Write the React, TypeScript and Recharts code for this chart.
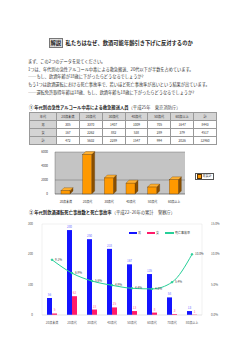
import React from 'react';
import {
  BarChart,
  Bar,
  ComposedChart,
  Line,
  XAxis,
  YAxis,
  CartesianGrid,
  LabelList,
} from 'recharts';

// ① 急性アルコール中毒（平成25年 東京消防庁）
const ageGroups1 = ['20歳未満', '20歳代', '30歳代', '40歳代', '50歳代', '60歳以上'];
const male1 = [305, 3370, 1407, 1009, 705, 1647];
const female1 = [167, 2262, 882, 538, 289, 379];
const total1 = [472, 5632, 2289, 1547, 994, 2026];
const ticks1 = [0, 1000, 2000, 3000, 4000, 5000, 6000];

// ② 飲酒運転死亡事故（平成22~26年 警察庁）
const ageGroups2 = ['20歳未満', '20歳代', '30歳代', '40歳代', '50歳代', '60歳代', '70歳代', '80歳以上'];
const male2 = [56, 280, 250, 218, 167, 135, 58, 13];
const female2 = [5, 62, 18, 25, 13, 8, 3, 1];
const rate2 = [9.1, 6.9, 5.6, 4.9, 4.4, 4.3, 5.4, 10.0];
const ticksLeft2 = [0, 100, 200, 300];
const ticksRight2 = [0, 5, 10, 15];

const font = '"Noto Sans CJK JP", "Noto Sans", sans-serif';

const sum = (a: number[]) => a.reduce((s, v) => s + v, 0);

const tableRows = [
  { label: '男', values: [...male1, sum(male1)] },
  { label: '女', values: [...female1, sum(female1)] },
  { label: '計', values: [...total1, sum(total1)] },
];

const chart1Data = ageGroups1.map((g, i) => ({ age: g, total: total1[i] }));
const chart2Data = ageGroups2.map((g, i) => ({
  age: g,
  male: male2[i],
  female: female2[i],
  rate: rate2[i],
}));

// excel-ish 3D column
const Bar3D = (props: any) => {
  const { x, y, width, height } = props;
  if (!height) return null;
  const d = 3;
  return (
    <g>
      <polygon
        points={`${x + width},${y} ${x + width + d},${y - d} ${x + width + d},${y + height - d} ${x + width},${y + height}`}
        fill="#8a4f00"
        stroke="#5a3300"
        strokeWidth={0.3}
      />
      <polygon
        points={`${x},${y} ${x + d},${y - d} ${x + width + d},${y - d} ${x + width},${y}`}
        fill="#ffb030"
        stroke="#5a3300"
        strokeWidth={0.3}
      />
      <rect x={x} y={y} width={width} height={height} fill="#ff9900" stroke="#5a3300" strokeWidth={0.3} />
    </g>
  );
};

const abs = (left: number, top: number, extra: React.CSSProperties = {}): React.CSSProperties => ({
  position: 'absolute',
  left,
  top,
  whiteSpace: 'nowrap',
  ...extra,
});

const bodyLines = [
  'まず、この2つのデータを見てください。',
  '1つは、年代別の急性アルコール中毒による救急搬送、20代以下が半数を占めています。',
  '――もし、飲酒年齢が18歳に下がったらどうなるでしょうか?',
  'もう1つは飲酒運転における死亡事故率で、若いほど死亡事故率が高いという結果が出ています。',
  '――運転免許取得年齢は18歳、もし、飲酒年齢も18歳に下がったらどうなるでしょうか?',
];

const App = () => {
  const cellStyle: React.CSSProperties = {
    border: '0.5px solid #999',
    height: 7,
    padding: 0,
    textAlign: 'center',
    lineHeight: '7px',
  };

  return (
    <div
      style={{
        position: 'absolute',
        left: 0,
        top: 0,
        width: 250,
        height: 353,
        background: '#fff',
        fontFamily: font,
        color: '#222',
        overflow: 'hidden',
      }}
    >
      {/* title */}
      <div style={abs(49, 40, { fontSize: 5.3, fontWeight: 700, lineHeight: '7px' })}>
        <span style={{ background: '#dcdcdc', border: '0.5px solid #777', padding: '0 0.5px' }}>解説</span>
        <span style={{ marginLeft: 3 }}>私たちはなぜ、飲酒可能年齢引き下げに反対するのか</span>
      </div>

      {bodyLines.map((t, i) => (
        <div key={i} style={abs(28, 59 + i * 7.7, { fontSize: 4.2, lineHeight: '5px', color: '#333' })}>
          {t}
        </div>
      ))}

      {/* section 1 */}
      <div style={abs(29, 104.5, { fontSize: 4.3, lineHeight: '5px' })}>
        <span style={{ fontWeight: 700 }}>① 年代別の急性アルコール中毒による救急搬送人員</span>
        <span style={{ color: '#444' }}>（平成25年　東京消防庁）</span>
      </div>

      <table
        style={{
          position: 'absolute',
          left: 29,
          top: 112,
          width: 188,
          borderCollapse: 'collapse',
          fontSize: 3.2,
          tableLayout: 'fixed',
          color: '#333',
        }}
      >
        <tbody>
          <tr>
            <td style={{ ...cellStyle, background: '#d4d4d4', width: 26 }}>年代</td>
            {ageGroups1.map((g) => (
              <td key={g} style={{ ...cellStyle, background: '#d4d4d4' }}>
                {g}
              </td>
            ))}
            <td style={{ ...cellStyle, background: '#d4d4d4' }}>計</td>
          </tr>
          {tableRows.map((r) => (
            <tr key={r.label}>
              <td style={{ ...cellStyle, background: '#d4d4d4' }}>{r.label}</td>
              {r.values.map((v, i) => (
                <td key={i} style={cellStyle}>
                  {v}
                </td>
              ))}
            </tr>
          ))}
        </tbody>
      </table>

      <div style={abs(0, 148)}>
        <BarChart
          width={250}
          height={56}
          data={chart1Data}
          margin={{ top: 4, right: 65, left: 43, bottom: 2 }}
          barSize={9}
        >
          <CartesianGrid vertical={false} fill="#c4c4c4" stroke="#555" strokeWidth={0.4} />
          <XAxis
            dataKey="age"
            height={8}
            tick={{ fontSize: 3, fill: '#333' }}
            tickLine={false}
            axisLine={{ stroke: '#555', strokeWidth: 0.4 }}
            tickMargin={1}
            interval={0}
          />
          <YAxis
            width={12}
            domain={[0, 6000]}
            ticks={ticks1}
            tick={{ fontSize: 3, fill: '#333' }}
            tickLine={false}
            axisLine={{ stroke: '#555', strokeWidth: 0.4 }}
            tickMargin={1}
          />
          <Bar dataKey="total" shape={Bar3D} isAnimationActive={false} />
        </BarChart>
      </div>

      {/* legend 1 */}
      <div
        style={abs(195, 173, {
          border: '0.5px solid #555',
          fontSize: 3,
          lineHeight: '4px',
          padding: '0 1px',
          display: 'flex',
          alignItems: 'center',
          background: '#fff',
        })}
      >
        <span style={{ display: 'inline-block', width: 2.5, height: 2.5, background: '#ff9900', border: '0.3px solid #5a3300', marginRight: 1 }} />
        男女計
      </div>

      {/* section 2 */}
      <div style={abs(29, 209.5, { fontSize: 4.3, lineHeight: '5px' })}>
        <span style={{ fontWeight: 700 }}>② 年代別飲酒運転死亡事故数と死亡事故率</span>
        <span style={{ color: '#444' }}>（平成22~26年の累計　警察庁）</span>
      </div>

      <div style={abs(0, 218)}>
        <ComposedChart
          width={250}
          height={112}
          data={chart2Data}
          margin={{ top: 6, right: 34, left: 28, bottom: 5 }}
          barGap={0}
          barCategoryGap={5}
        >
          <CartesianGrid vertical={false} stroke="#e2e2e2" strokeWidth={0.5} />
          <XAxis
            dataKey="age"
            height={10}
            tick={{ fontSize: 3, fill: '#555' }}
            tickLine={false}
            axisLine={{ stroke: '#ddd', strokeWidth: 0.5 }}
            tickMargin={1}
            interval={0}
          />
          <YAxis
            yAxisId="left"
            width={14}
            domain={[0, 300]}
            ticks={ticksLeft2}
            tick={{ fontSize: 3, fill: '#555' }}
            tickLine={false}
            axisLine={{ stroke: '#e2e2e2', strokeWidth: 0.5 }}
            tickMargin={3}
          />
          <YAxis
            yAxisId="right"
            orientation="right"
            width={14}
            domain={[0, 15]}
            ticks={ticksRight2}
            tickFormatter={(v) => `${Number(v).toFixed(1)}%`}
            tick={{ fontSize: 3, fill: '#555' }}
            tickLine={false}
            axisLine={{ stroke: '#e2e2e2', strokeWidth: 0.5 }}
            tickMargin={3}
          />
          <Bar yAxisId="left" dataKey="male" fill="#1414ff" isAnimationActive={false}>
            <LabelList dataKey="male" position="top" offset={2} style={{ fontSize: 3, fill: '#6a6aff' }} />
          </Bar>
          <Bar yAxisId="left" dataKey="female" fill="#ff1a6a" isAnimationActive={false}>
            <LabelList dataKey="female" position="top" offset={2} style={{ fontSize: 3, fill: '#ff5a90' }} />
          </Bar>
          <Line
            yAxisId="right"
            type="monotone"
            dataKey="rate"
            stroke="#26cf98"
            strokeWidth={1}
            dot={{ r: 0.8, fill: '#26cf98', stroke: '#26cf98' }}
            isAnimationActive={false}
          >
            <LabelList
              dataKey="rate"
              position="right"
              offset={3}
              formatter={(v: any) => `${Number(v).toFixed(1)}%`}
              style={{ fontSize: 3, fill: '#444' }}
            />
          </Line>
        </ComposedChart>
      </div>

      {/* legend 2 */}
      <div style={abs(129, 230.5, { fontSize: 3, lineHeight: '4px', display: 'flex', alignItems: 'center', color: '#444' })}>
        <span style={{ display: 'inline-block', width: 8, height: 2, background: '#1414ff', marginRight: 1 }} />
        男
        <span style={{ display: 'inline-block', width: 8, height: 2, background: '#ff1a6a', margin: '0 1px 0 6px' }} />
        女
        <span style={{ display: 'inline-block', width: 9, height: 2, background: '#26cf98', margin: '0 1px 0 6px' }} />
        死亡事故率
      </div>
    </div>
  );
};

export default App;
